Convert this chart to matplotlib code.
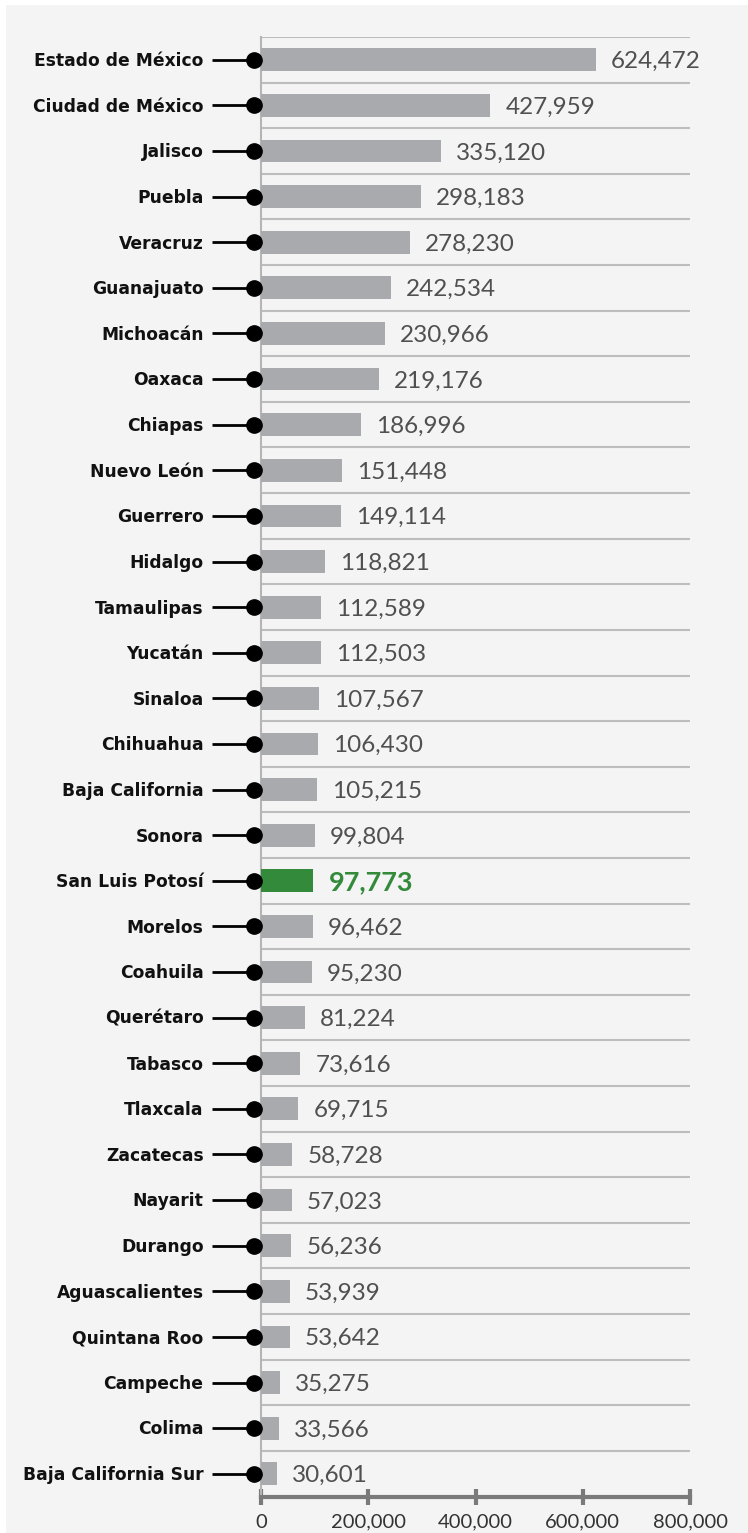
import matplotlib
matplotlib.use("Agg")
import matplotlib.pyplot as plt
from matplotlib.patches import Rectangle

# data
states = ['Estado de México', 'Ciudad de México', 'Jalisco', 'Puebla', 'Veracruz',
          'Guanajuato', 'Michoacán', 'Oaxaca', 'Chiapas', 'Nuevo León', 'Guerrero',
          'Hidalgo', 'Tamaulipas', 'Yucatán', 'Sinaloa', 'Chihuahua', 'Baja California',
          'Sonora', 'San Luis Potosí', 'Morelos', 'Coahuila', 'Querétaro', 'Tabasco',
          'Tlaxcala', 'Zacatecas', 'Nayarit', 'Durango', 'Aguascalientes', 'Quintana Roo',
          'Campeche', 'Colima', 'Baja California Sur']
values = [624472, 427959, 335120, 298183, 278230, 242534, 230966, 219176, 186996,
          151448, 149114, 118821, 112589, 112503, 107567, 106430, 105215, 99804,
          97773, 96462, 95230, 81224, 73616, 69715, 58728, 57023, 56236, 53939,
          53642, 35275, 33566, 30601]
highlight = 'San Luis Potosí'
xticks = [0, 200000, 400000, 600000, 800000]

W, H = 748, 1533
fig = plt.figure(figsize=(W / 100, H / 100), dpi=100)
fig.patch.set_facecolor('white')
fig.add_artist(Rectangle((6 / W, 0), 1 - 6 / W, 1 - 5 / H, transform=fig.transFigure,
                         facecolor='#f4f4f4', edgecolor='none', zorder=-10))

ax = fig.add_axes([261 / W, 36 / H, 429 / W, 1460 / H])
ax.set_facecolor('none')

n = len(states)
ypos = list(range(n))
gray = '#a9aaad'
green = '#338a3a'
colors = [green if s == highlight else gray for s in states]

ax.barh(ypos, values, height=0.5, color=colors, zorder=3)

# separators between rows
for i in range(n):
    ax.axhline(i - 0.5, color='#bdbdbd', lw=1.5, zorder=1)

ax.set_xlim(0, 800000)
ax.set_ylim(31.51, -0.5)

# value labels
for y, v, s in zip(ypos, values, states):
    if s == highlight:
        ax.text(v + 28000, y + 0.04, f"{v:,}", va='center', ha='left', fontsize=19.5,
                fontweight='bold', color=green, family='Lato')
    else:
        ax.text(v + 28000, y + 0.04, f"{v:,}", va='center', ha='left', fontsize=17.5,
                fontweight='normal', color='#505050', family='Lato')

# category labels with connector lines and dots
for y, s in zip(ypos, states):
    ax.plot([-91000, -13000], [y, y], color='black', lw=2, clip_on=False, zorder=4,
            solid_capstyle='butt')
    ax.plot([-13000], [y], 'o', color='black', markersize=11, clip_on=False, zorder=5)
    ax.text(-107000, y + 0.03, s, va='center', ha='right', fontsize=12.3,
            fontweight='bold', color='#111111', family='DejaVu Sans')

for side in ['top', 'right']:
    ax.spines[side].set_visible(False)
ax.spines['left'].set_color('#b5b5b5')
ax.spines['left'].set_linewidth(1.5)
ax.spines['bottom'].set_color('#7a7a7a')
ax.spines['bottom'].set_linewidth(3)

ax.set_yticks([])
ax.set_xticks(xticks)
ax.set_xticklabels([f"{t:,}" for t in xticks], fontsize=14.5, color='#333333',
                   family='Lato')
ax.tick_params(axis='x', direction='inout', length=12, width=3, color='#7a7a7a', pad=6)

fig.savefig('out.png', dpi=100, facecolor=fig.get_facecolor())
